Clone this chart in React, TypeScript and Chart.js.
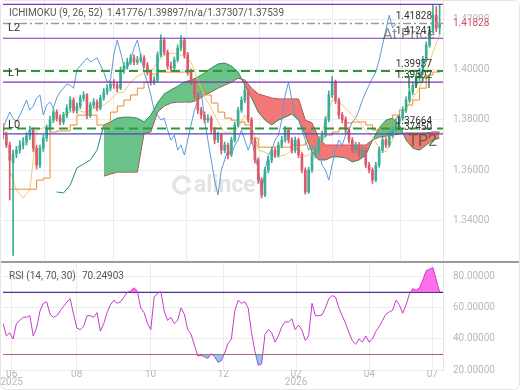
import React, { useEffect, useRef } from 'react';
import { Chart, registerables } from 'chart.js';
Chart.register(...registerables);

// ---------- DATA ----------
// candles: one every 2 trading days, day index = 2*k
const opens = [
  1.3770, 1.3740, 1.3700, 1.3630, 1.3665, 1.3680, 1.3700, 1.3712, 1.3736, 1.3760,
  1.3688, 1.3621, 1.3688, 1.3728, 1.3768, 1.3800, 1.3831, 1.3807, 1.3792, 1.3819,
  1.3847, 1.3879, 1.3839, 1.3855, 1.3887, 1.3899, 1.3819, 1.3859, 1.3871, 1.3847,
  1.3887, 1.3911, 1.3926, 1.3942, 1.3938, 1.3926, 1.3998, 1.4014, 1.4030, 1.4046,
  1.4030, 1.4038, 1.4046, 1.4018, 1.3990, 1.3950, 1.3958, 1.4058, 1.4117, 1.4069,
  1.4014, 1.4006, 1.4038, 1.4085, 1.4117, 1.4058, 1.3990, 1.3950, 1.3899, 1.3839,
  1.3819, 1.3800, 1.3807, 1.3760, 1.3720, 1.3740, 1.3680, 1.3700, 1.3661, 1.3720,
  1.3780, 1.3839, 1.3879, 1.3918, 1.3800, 1.3720, 1.3641, 1.3561, 1.3502, 1.3601,
  1.3641, 1.3680, 1.3661, 1.3700, 1.3720, 1.3760, 1.3720, 1.3680, 1.3720, 1.3661,
  1.3601, 1.3514, 1.3601, 1.3661, 1.3680, 1.3720, 1.3740, 1.3800, 1.3899, 1.3950,
  1.3879, 1.3819, 1.3800, 1.3760, 1.3720, 1.3680, 1.3700, 1.3661, 1.3680, 1.3621,
  1.3601, 1.3561, 1.3621, 1.3680, 1.3720, 1.3700, 1.3740, 1.3760, 1.3792, 1.3807,
  1.3839, 1.3879, 1.3911, 1.3938, 1.3966, 1.3990, 1.4038, 1.4097, 1.4157, 1.4216,
  1.4165,
];
const closes = [
  1.3740, 1.3700, 1.3640, 1.3665, 1.3680, 1.3700, 1.3712, 1.3736, 1.3760, 1.3688,
  1.3621, 1.3688, 1.3728, 1.3768, 1.3800, 1.3831, 1.3807, 1.3792, 1.3819, 1.3847,
  1.3879, 1.3839, 1.3855, 1.3887, 1.3899, 1.3819, 1.3859, 1.3871, 1.3847, 1.3887,
  1.3911, 1.3926, 1.3942, 1.3938, 1.3926, 1.3998, 1.4014, 1.4030, 1.4046, 1.4030,
  1.4038, 1.4046, 1.4018, 1.3990, 1.3950, 1.3958, 1.4058, 1.4117, 1.4069, 1.4014,
  1.4006, 1.4038, 1.4085, 1.4117, 1.4058, 1.3990, 1.3950, 1.3899, 1.3839, 1.3819,
  1.3800, 1.3807, 1.3760, 1.3720, 1.3740, 1.3680, 1.3700, 1.3661, 1.3720, 1.3780,
  1.3839, 1.3879, 1.3918, 1.3800, 1.3720, 1.3641, 1.3561, 1.3502, 1.3601, 1.3641,
  1.3680, 1.3661, 1.3700, 1.3720, 1.3760, 1.3720, 1.3680, 1.3720, 1.3661, 1.3601,
  1.3514, 1.3601, 1.3661, 1.3680, 1.3720, 1.3740, 1.3800, 1.3899, 1.3950, 1.3879,
  1.3819, 1.3800, 1.3760, 1.3720, 1.3680, 1.3700, 1.3661, 1.3680, 1.3621, 1.3601,
  1.3561, 1.3621, 1.3680, 1.3720, 1.3700, 1.3740, 1.3760, 1.3792, 1.3807, 1.3839,
  1.3879, 1.3911, 1.3938, 1.3966, 1.3990, 1.4038, 1.4097, 1.4157, 1.4216, 1.4165,
  1.41828,
];
const highs = [
  1.3785, 1.3752, 1.3712, 1.3680, 1.3695, 1.3718, 1.3730, 1.3750, 1.3775, 1.3768,
  1.3700, 1.3700, 1.3740, 1.3780, 1.3815, 1.3845, 1.3840, 1.3820, 1.3830, 1.3860,
  1.3892, 1.3888, 1.3868, 1.3898, 1.3912, 1.3905, 1.3870, 1.3885, 1.3880, 1.3898,
  1.3925, 1.3940, 1.3955, 1.3960, 1.3950, 1.4010, 1.4028, 1.4045, 1.4060, 1.4058,
  1.4052, 1.4062, 1.4055, 1.4028, 1.3998, 1.3972, 1.4070, 1.4138, 1.4125, 1.4078,
  1.4030, 1.4050, 1.4098, 1.4135, 1.4125, 1.4068, 1.4002, 1.3962, 1.3910, 1.3850,
  1.3832, 1.3820, 1.3815, 1.3770, 1.3752, 1.3748, 1.3712, 1.3708, 1.3732, 1.3792,
  1.3850, 1.3892, 1.3935, 1.3922, 1.3810, 1.3728, 1.3650, 1.3570, 1.3612, 1.3655,
  1.3692, 1.3690, 1.3712, 1.3735, 1.3775, 1.3768, 1.3730, 1.3732, 1.3728, 1.3670,
  1.3610, 1.3612, 1.3672, 1.3695, 1.3732, 1.3755, 1.3812, 1.3915, 1.3972, 1.3958,
  1.3888, 1.3830, 1.3812, 1.3770, 1.3730, 1.3712, 1.3710, 1.3692, 1.3688, 1.3632,
  1.3610, 1.3632, 1.3692, 1.3732, 1.3730, 1.3752, 1.3772, 1.3805, 1.3820, 1.3852,
  1.3892, 1.3925, 1.3952, 1.3980, 1.4005, 1.4052, 1.4110, 1.4170, 1.4256, 1.4250,
  1.4256,
];
const lows = [
  1.3725, 1.3690, 1.3482, 1.3262, 1.3650, 1.3668, 1.3685, 1.3700, 1.3722, 1.3675,
  1.3605, 1.3610, 1.3675, 1.3715, 1.3755, 1.3790, 1.3795, 1.3780, 1.3782, 1.3808,
  1.3835, 1.3828, 1.3826, 1.3845, 1.3875, 1.3805, 1.3810, 1.3848, 1.3836, 1.3840,
  1.3878, 1.3900, 1.3915, 1.3925, 1.3912, 1.3920, 1.3985, 1.4002, 1.4020, 1.4018,
  1.4020, 1.4028, 1.4005, 1.3978, 1.3938, 1.3940, 1.3950, 1.4050, 1.4058, 1.4002,
  1.3995, 1.3998, 1.4030, 1.4075, 1.4045, 1.3978, 1.3940, 1.3885, 1.3825, 1.3805,
  1.3788, 1.3790, 1.3748, 1.3705, 1.3710, 1.3665, 1.3670, 1.3645, 1.3655, 1.3712,
  1.3772, 1.3830, 1.3868, 1.3790, 1.3708, 1.3628, 1.3548, 1.3490, 1.3495, 1.3590,
  1.3630, 1.3650, 1.3652, 1.3690, 1.3712, 1.3708, 1.3668, 1.3670, 1.3650, 1.3590,
  1.3505, 1.3508, 1.3592, 1.3650, 1.3670, 1.3710, 1.3732, 1.3792, 1.3888, 1.3865,
  1.3805, 1.3788, 1.3748, 1.3708, 1.3668, 1.3670, 1.3650, 1.3650, 1.3610, 1.3590,
  1.3548, 1.3555, 1.3612, 1.3670, 1.3690, 1.3692, 1.3730, 1.3750, 1.3782, 1.3798,
  1.3830, 1.3870, 1.3900, 1.3928, 1.3955, 1.3980, 1.4030, 1.4088, 1.4148, 1.4150,
  1.4140,
];

// Ichimoku lines: one point every 4 trading days
const tenkan = [
  null, 1.3601, 1.3522, 1.3490, 1.3522, 1.3760, 1.3768, 1.3780, 1.3807, 1.3819,
  1.3831, 1.3839, 1.3831, 1.3839, 1.3851, 1.3859, 1.3879, 1.3907, 1.3911, 1.3950,
  1.3974, 1.3986, 1.3990, 1.4030, 1.4057, 1.4065, 1.4061, 1.4053, 1.4030, 1.3958,
  1.3891, 1.3847, 1.3792, 1.3748, 1.3752, 1.3768, 1.3819, 1.3780, 1.3680, 1.3672,
  1.3660, 1.3656, 1.3660, 1.3680, 1.3688, 1.3653, 1.3672, 1.3700, 1.3799, 1.3879,
  1.3871, 1.3847, 1.3819, 1.3792, 1.3760, 1.3732, 1.3688, 1.3672, 1.3720, 1.3799,
  1.3847, 1.3887, 1.3926, 1.3990, 1.4069, 1.4137,
];
const kijun = [
  null, 1.3525, 1.3525, 1.3525, 1.3525, 1.3525, 1.3561, 1.3569, 1.3752, 1.3756,
  1.3756, 1.3780, 1.3819, 1.3819, 1.3819, 1.3780, 1.3780, 1.3831, 1.3855, 1.3879,
  1.3899, 1.3926, 1.3950, 1.3982, 1.3990, 1.3990, 1.3990, 1.3990, 1.3990, 1.3958,
  1.3926, 1.3899, 1.3867, 1.3831, 1.3807, 1.3799, 1.3792, 1.3780, 1.3728, 1.3692,
  1.3692, 1.3692, 1.3692, 1.3692, 1.3700, 1.3700, 1.3712, 1.3720, 1.3732, 1.3740,
  1.3752, 1.3768, 1.3788, 1.3792, 1.3792, 1.3780, 1.3760, 1.3768, 1.3780, 1.3819,
  1.3839, 1.3859, 1.3879, 1.3926, 1.3978, 1.3990,
];
const senkouA = [
  null, null, null, null, null, null, null, null, 1.3514, 1.3510,
  1.3541, 1.3609, 1.3625, 1.3641, 1.3680, 1.3780, 1.3792, 1.3807, 1.3811, 1.3811,
  1.3807, 1.3792, 1.3819, 1.3867, 1.3903, 1.3919, 1.3934, 1.3950, 1.3958, 1.3970,
  1.3986, 1.4006, 1.4022, 1.4026, 1.4014, 1.3990, 1.3938, 1.3887, 1.3831, 1.3799,
  1.3780, 1.3799, 1.3811, 1.3823, 1.3799, 1.3740, 1.3672, 1.3641, 1.3641, 1.3653,
  1.3653, 1.3649, 1.3633, 1.3641, 1.3660, 1.3720, 1.3768, 1.3799, 1.3807, 1.3780,
  1.3720, 1.3688, 1.3680, 1.3700, 1.3720, 1.3728,
];
const senkouB = [
  null, null, null, null, null, null, null, null, null, null,
  null, null, null, null, null, 1.3577, 1.3585, 1.3593, 1.3593, 1.3593,
  1.3593, 1.3748, 1.3752, 1.3831, 1.3855, 1.3867, 1.3871, 1.3871, 1.3871, 1.3879,
  1.3899, 1.3911, 1.3926, 1.3938, 1.3950, 1.3966, 1.3958, 1.3926, 1.3903, 1.3895,
  1.3887, 1.3883, 1.3883, 1.3883, 1.3883, 1.3799, 1.3788, 1.3728, 1.3700, 1.3700,
  1.3700, 1.3700, 1.3700, 1.3700, 1.3700, 1.3720, 1.3732, 1.3736, 1.3740, 1.3744,
  1.3748, 1.3748, 1.3748, 1.3748, 1.3752, 1.3752,
];

// RSI(14), one value per candle
const rsi = [
  50, 42, 44, 40, 50, 52, 54, 54, 55, 42,
  47, 58, 63, 64, 56, 54, 55, 58, 61, 63.7,
  66, 56, 47, 46, 48, 55, 55, 54, 57, 45,
  50, 57, 62, 65, 63, 64, 67, 70, 71, 73,
  71, 60, 57, 50, 46, 67, 69.5, 70.5, 58, 52,
  54, 50, 52, 60, 56, 46, 43, 36, 29, 29.5,
  28.5, 27.5, 30.5, 28.5, 25, 26, 31, 37, 40, 58,
  65, 63, 64, 60, 44, 32, 23, 24, 43, 46,
  44, 38, 42, 48, 51, 51, 53, 46, 49, 45.7,
  39, 42, 63, 55, 55, 55.5, 60, 66, 68, 67,
  60, 55, 50, 44, 39, 36.5, 40, 38, 42, 38,
  40, 45, 48, 52, 56, 57.5, 58.5, 65, 62, 56.6,
  62, 69, 72.5, 71.5, 73, 78, 84, 85, 86, 78,
  70.24903,
];

const purpleLevels = [1.42584, 1.41241, 1.39502, 1.3745];
const greenLevels = [1.39937, 1.37664];
const lastPrice = 1.41828;
const levelNames = ['L2', 'L1', 'L0'];
const levelNameValues = [lastPrice, 1.39937, 1.37664];

const priceTicks = [1.34, 1.36, 1.38, 1.4, 1.42];
const rsiTicks = [20, 40, 60, 80];
const xTickDays = [5.2, 43.9, 87.9, 131.2, 174.5, 218.1, 255.6];
const xTickLabels = [['06', '2025'], ['08'], ['10'], ['12'], ['02', '2026'], ['04'], ['07']];

const ichimokuTitle = 'ICHIMOKU (9, 26, 52)';
const ichimokuValues = '1.41776/1.39897/n/a/1.37307/1.37539';
const rsiTitle = 'RSI (14, 70, 30)';
const rsiValue = '70.24903';

const CANDLE_STEP = 2;
const LINE_STEP = 4;
const CHIKOU_SHIFT = 26;
const DAY_MAX = 262;

// ---------- STYLE ----------
const FONT = 'Roboto';
const GREEN = '#3aae94';
const RED = '#dc5a6c';
const GRID = '#ececec';
const TICK = '#b8b8b8';

function pts(arr: (number | null)[], step: number, from = 0, to = Infinity) {
  const out: { x: number; y: number }[] = [];
  arr.forEach((v, i) => {
    if (v !== null && i >= from && i <= to) out.push({ x: i * step, y: v as number });
  });
  return out;
}
function hline(v: number) {
  return [{ x: 0, y: v }, { x: DAY_MAX, y: v }];
}

const noPad = (s: any) => {
  s.paddingTop = 0; s.paddingBottom = 0; s.paddingLeft = 0; s.paddingRight = 0;
};

function mainConfig(): any {
  const colors = closes.map((c, k) => (c >= opens[k] ? GREEN : RED));
  const cx = closes.map((_, k) => k * CANDLE_STEP);
  const bStart = senkouB.findIndex((v) => v !== null);
  const aStart = senkouA.findIndex((v) => v !== null);
  const chikou = closes
    .map((c, k) => ({ x: k * CANDLE_STEP - CHIKOU_SHIFT, y: c }))
    .filter((p) => p.x >= 0);
  const line = (data: any, color: string, extra: any = {}) => ({
    type: 'line', data, borderColor: color, borderWidth: 1, pointRadius: 0, tension: 0, fill: false, order: 1, ...extra,
  });
  const datasets: any[] = [
    {
      type: 'bar', data: cx.map((x, k) => ({ x, y: [lows[k], highs[k]] })),
      backgroundColor: colors, barThickness: 1, grouped: false, order: 0,
    },
    {
      type: 'bar', data: cx.map((x, k) => ({ x, y: [opens[k], closes[k]] })),
      backgroundColor: colors, barThickness: 2, grouped: false, order: 0,
    },
    line(pts(senkouA, LINE_STEP, bStart), '#2f8a5c', {
      order: 4, fill: { target: '+1', above: 'rgba(80,185,115,0.85)', below: 'rgba(242,95,95,0.85)' },
    }),
    line(pts(senkouB, LINE_STEP), '#a3303c', { order: 4 }),
    line(pts(senkouA, LINE_STEP, aStart, bStart), '#2a8a78', { order: 4 }),
    line(pts(kijun, LINE_STEP), '#ec8a2e', { stepped: 'after' }),
    line(pts(tenkan, LINE_STEP), '#f4c774'),
    line(chikou, '#5b9bd8'),
  ];
  purpleLevels.forEach((v, i) =>
    datasets.push(line(hline(v), i === purpleLevels.length - 1 ? '#5046c8' : '#7b35b8', { order: -1, borderWidth: 1.2 })),
  );
  greenLevels.forEach((v) =>
    datasets.push(line(hline(v), '#2e9b2e', { order: -1, borderWidth: 2, borderDash: [9, 5] })),
  );
  datasets.push(line(hline(lastPrice), '#9a9a9a', { order: -1, borderWidth: 1.5, borderDash: [8, 3, 2, 3] }));

  const textPlugin = {
    id: 'mainText',
    beforeDatasetsDraw(chart: any) {
      const ctx = chart.ctx;
      ctx.save();
      ctx.strokeStyle = '#e3e3e3';
      ctx.lineWidth = 3.5;
      ctx.beginPath();
      ctx.arc(182, 185, 8, 0.3, Math.PI * 2 - 0.3);
      ctx.stroke();
      ctx.fillStyle = '#e3e3e3';
      ctx.font = `bold 23px ${FONT}`;
      ctx.textBaseline = 'middle';
      ctx.fillText('alince', 194, 186);
      ctx.restore();
    },
    afterDraw(chart: any) {
      const { ctx, chartArea: a } = chart;
      const y = chart.scales.y;
      ctx.save();
      ctx.textBaseline = 'middle';
      ctx.textAlign = 'left';
      ctx.font = `10px ${FONT}`;
      ctx.fillStyle = '#555';
      ctx.fillText(ichimokuTitle, 9, 13);
      ctx.fillText(ichimokuValues, 107, 13);
      // L labels
      ctx.font = `11px ${FONT}`;
      ctx.fillStyle = '#333';
      levelNames.forEach((n, i) => {
        const py = y.getPixelForValue(levelNameValues[i]);
        const off = i === 0 ? 5 : i === 1 ? 2 : -3;
        ctx.fillText(n, 8, py + off);
      });
      // value labels
      ctx.textAlign = 'right';
      ctx.textBaseline = 'bottom';
      ctx.font = `10px ${FONT}`;
      ctx.fillStyle = '#333';
      [...purpleLevels, ...greenLevels, lastPrice].forEach((v) => {
        ctx.fillText(v.toFixed(5), a.right - 11, y.getPixelForValue(v) - 1.5);
      });
      // big tags
      ctx.textBaseline = 'middle';
      ctx.font = `15px ${FONT}`;
      ctx.fillStyle = 'rgba(90,90,90,0.7)';
      ctx.fillText('At Price', a.right - 8, y.getPixelForValue(1.41241) - 3);
      ctx.font = `16px ${FONT}`;
      ctx.fillStyle = 'rgba(35,110,35,0.85)';
      ctx.fillText('TP1', a.right - 10, y.getPixelForValue(1.39502) + 2);
      ctx.fillStyle = 'rgba(70,95,30,0.85)';
      ctx.fillText('TP2', a.right - 6, y.getPixelForValue(1.3745) + 8);
      // current price on axis
      const py = y.getPixelForValue(lastPrice);
      ctx.font = `10px ${FONT}`;
      ctx.fillStyle = '#fff';
      ctx.fillRect(a.right + 8, py - 5, 40, 10);
      ctx.textAlign = 'left';
      ctx.fillStyle = '#d04a5e';
      ctx.fillText(lastPrice.toFixed(5), a.right + 10, py);
      ctx.restore();
    },
  };

  return {
    type: 'bar',
    data: { datasets },
    plugins: [textPlugin],
    options: {
      responsive: false, animation: false, devicePixelRatio: 1,
      layout: { padding: { left: 3, top: 0, right: 0, bottom: 0 } },
      plugins: { legend: { display: false }, tooltip: { enabled: false } },
      scales: {
        x: {
          type: 'linear', min: 0, max: DAY_MAX, offset: false,
          afterBuildTicks: (s: any) => { s.ticks = xTickDays.map((v) => ({ value: v })); },
          afterFit: (s: any) => { s.height = 0; noPad(s); },
          ticks: { display: false },
          grid: { color: GRID, drawTicks: false },
          border: { display: false },
        },
        y: {
          position: 'right', min: 1.324, max: 1.4276,
          afterBuildTicks: (s: any) => { s.ticks = priceTicks.map((v) => ({ value: v })); },
          afterFit: (s: any) => { s.width = 77; noPad(s); },
          ticks: { padding: 10, color: TICK, font: { family: FONT, size: 10 }, callback: (v: any) => Number(v).toFixed(5) },
          grid: { color: GRID, drawTicks: false },
          border: { display: true, color: '#e4e4e4' },
        },
      },
    },
  };
}

function rsiConfig(): any {
  const data = rsi.map((v, k) => ({ x: k * CANDLE_STEP, y: v }));
  const textPlugin = {
    id: 'rsiText',
    afterDraw(chart: any) {
      const ctx = chart.ctx;
      ctx.save();
      ctx.textBaseline = 'middle';
      ctx.font = `10px ${FONT}`;
      ctx.fillStyle = '#555';
      ctx.fillText(rsiTitle, 9, 13);
      ctx.fillText(rsiValue, 82, 13);
      ctx.restore();
    },
  };
  return {
    type: 'line',
    data: {
      datasets: [
        {
          data, borderColor: '#c53cc9', borderWidth: 1, pointRadius: 0, tension: 0,
          fill: { target: { value: 70 }, above: 'rgba(255,95,235,0.9)', below: 'rgba(0,0,0,0)' },
        },
        {
          data, borderColor: 'rgba(0,0,0,0)', borderWidth: 0, pointRadius: 0, tension: 0,
          fill: { target: { value: 30 }, above: 'rgba(0,0,0,0)', below: 'rgba(110,205,240,0.9)' },
        },
        { data: hline(70), borderColor: '#26267e', borderWidth: 1.2, pointRadius: 0, fill: false },
        { data: hline(30), borderColor: '#c44a4a', borderWidth: 1.2, pointRadius: 0, fill: false },
      ],
    },
    plugins: [textPlugin],
    options: {
      responsive: false, animation: false, devicePixelRatio: 1,
      layout: { padding: { left: 3, top: 0, right: 0, bottom: 0 } },
      plugins: { legend: { display: false }, tooltip: { enabled: false } },
      scales: {
        x: {
          type: 'linear', min: 0, max: DAY_MAX, offset: false,
          afterBuildTicks: (s: any) => { s.ticks = xTickDays.map((v) => ({ value: v })); },
          afterFit: (s: any) => { s.height = 20; noPad(s); },
          ticks: {
            autoSkip: false, maxRotation: 0, padding: 0, color: TICK,
            font: { family: FONT, size: 10, lineHeight: 0.85 },
            callback: (_v: any, i: number) => xTickLabels[i],
          },
          grid: { color: GRID, drawTicks: false },
          border: { display: false },
        },
        y: {
          position: 'right', min: 20, max: 89,
          afterBuildTicks: (s: any) => { s.ticks = rsiTicks.map((v) => ({ value: v })); },
          afterFit: (s: any) => { s.width = 77; noPad(s); },
          ticks: { padding: 10, color: TICK, font: { family: FONT, size: 10 }, callback: (v: any) => Number(v).toFixed(5) },
          grid: { color: GRID, drawTicks: false },
          border: { display: true, color: '#e4e4e4' },
        },
      },
    },
  };
}

export default function App() {
  const mainRef = useRef<HTMLCanvasElement>(null);
  const rsiRef = useRef<HTMLCanvasElement>(null);
  useEffect(() => {
    document.body.style.margin = '0';
    Chart.defaults.font.family = FONT;
    const c1 = new Chart(mainRef.current as HTMLCanvasElement, mainConfig());
    const c2 = new Chart(rsiRef.current as HTMLCanvasElement, rsiConfig());
    return () => {
      c1.destroy();
      c2.destroy();
    };
  }, []);
  return (
    <div style={{ position: 'relative', width: 520, height: 390, background: '#fff', overflow: 'hidden' }}>
      <canvas ref={mainRef} width={520} height={261} style={{ position: 'absolute', left: 0, top: 0 }} />
      <div style={{ position: 'absolute', left: 0, top: 261, width: 520, height: 2, background: '#9b9b9b' }} />
      <canvas ref={rsiRef} width={520} height={127} style={{ position: 'absolute', left: 0, top: 263 }} />
      <div
        style={{
          position: 'absolute', left: 0, top: 0, width: 520, height: 390, boxSizing: 'border-box',
          border: '1px solid #e6e6e6', borderRadius: 6, pointerEvents: 'none',
        }}
      />
    </div>
  );
}
